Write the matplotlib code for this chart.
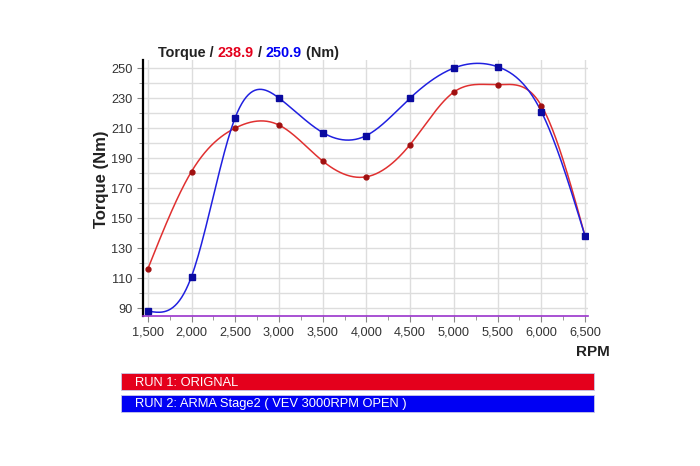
import numpy as np
import matplotlib
matplotlib.use("Agg")
import matplotlib.pyplot as plt
from matplotlib.patches import Rectangle
from matplotlib.ticker import MultipleLocator, FuncFormatter

plt.rcParams['font.family'] = ['Liberation Sans', 'DejaVu Sans']

rpm = [1500, 2000, 2500, 3000, 3500, 4000, 4500, 5000, 5500, 6000, 6500]
run1 = [116, 181, 210, 212, 188, 177.5, 199, 234, 238.9, 225, 138]
run2 = [88, 111, 217, 230, 207, 205, 230, 250, 250.9, 221, 138]
run1_label = "RUN 1: ORIGNAL"
run2_label = "RUN 2: ARMA Stage2 ( VEV 3000RPM OPEN )"
yticks = [90, 110, 130, 150, 170, 190, 210, 230, 250]
xticks = [1500, 2000, 2500, 3000, 3500, 4000, 4500, 5000, 5500, 6000, 6500]

RED = "#e4001c"
BLUE = "#0000f4"
LRED = "#e03030"
LBLUE = "#2020e0"


def natural_spline(x, y, n=40):
    x = np.asarray(x, float)
    y = np.asarray(y, float)
    m = len(x)
    h = np.diff(x)
    A = np.zeros((m, m))
    b = np.zeros(m)
    A[0, 0] = 1
    A[-1, -1] = 1
    for i in range(1, m - 1):
        A[i, i - 1] = h[i - 1]
        A[i, i] = 2 * (h[i - 1] + h[i])
        A[i, i + 1] = h[i]
        b[i] = 6 * ((y[i + 1] - y[i]) / h[i] - (y[i] - y[i - 1]) / h[i - 1])
    M = np.linalg.solve(A, b)
    xs, ys = [], []
    for i in range(m - 1):
        t = np.linspace(x[i], x[i + 1], n, endpoint=(i == m - 2))
        a = x[i + 1] - t
        c = t - x[i]
        s = (M[i] * a ** 3 + M[i + 1] * c ** 3) / (6 * h[i]) \
            + (y[i] / h[i] - M[i] * h[i] / 6) * a \
            + (y[i + 1] / h[i] - M[i + 1] * h[i] / 6) * c
        xs.append(t)
        ys.append(s)
    return np.concatenate(xs), np.concatenate(ys)


fig = plt.figure(figsize=(7, 4.66), dpi=100)
ax = fig.add_axes([0.204, 0.322, 0.636, 0.549])

xs1, ys1 = natural_spline(rpm, run1)
xs2, ys2 = natural_spline(rpm, run2)
ax.plot(xs1, ys1, color=LRED, lw=1.1, zorder=3)
ax.plot(xs2, ys2, color=LBLUE, lw=1.1, zorder=4)
ax.plot(rpm, run1, 'o', color="#a01010", ms=3.5, zorder=5)
ax.plot(rpm, run2, 's', color="#0a0aa0", ms=4, zorder=6)

ax.set_xlim(1443, 6534)
ax.set_ylim(84.7, 255.3)
ax.set_xticks(xticks)
ax.xaxis.set_major_formatter(FuncFormatter(lambda v, p: f"{int(v):,}"))
ax.xaxis.set_minor_locator(MultipleLocator(250))
ax.set_yticks(yticks)
ax.yaxis.set_minor_locator(MultipleLocator(10))
ax.grid(True, which='major', axis='x', color="#dddddd", lw=1)
ax.grid(True, which='both', axis='y', color="#dddddd", lw=1)
ax.set_axisbelow(True)
for s in ['top', 'right']:
    ax.spines[s].set_visible(False)
ax.spines['left'].set_color('black')
ax.spines['left'].set_linewidth(1.6)
ax.spines['bottom'].set_color('#9933cc')
ax.spines['bottom'].set_linewidth(1.2)
ax.tick_params(axis='both', which='major', labelsize=9.2, length=4,
               colors='#888888', labelcolor='#333333')
ax.tick_params(axis='both', which='minor', length=3, colors='#888888')

ax.set_ylabel("Torque (Nm)", fontsize=12, fontweight='bold', color='#222222')
ax.yaxis.set_label_coords(-0.076, 0.535)
fig.text(0.847, 0.245, "RPM", fontsize=11, fontweight='bold', color='#222222', ha='center', va='center')

# multi-coloured title
parts = [("Torque / ", "#222222"), ("238.9", RED), (" / ", "#222222"), ("250.9", BLUE), (" (Nm)", "#222222")]
x0 = 0.226
fig.canvas.draw()
renderer = fig.canvas.get_renderer()
for txt, col in parts:
    t = fig.text(x0, 0.887, txt, fontsize=10.4, fontweight='bold', color=col, ha='left', va='center')
    bb = t.get_window_extent(renderer=renderer)
    x0 += bb.width / fig.bbox.width

# legend bars
bars = [(run1_label, RED, 1 - 390 / 466), (run2_label, BLUE, 1 - 412 / 466)]
for lab, col, yb in bars:
    fig.patches.append(Rectangle((121 / 700, yb), (594 - 121) / 700, 17 / 466,
                                 transform=fig.transFigure, facecolor=col,
                                 edgecolor='#c8c8e8', lw=0.6))
    fig.text(135 / 700, yb + 4.5 / 466, lab, fontsize=9.3, color='white',
             ha='left', va='baseline')

fig.savefig("out.png", dpi=100)
